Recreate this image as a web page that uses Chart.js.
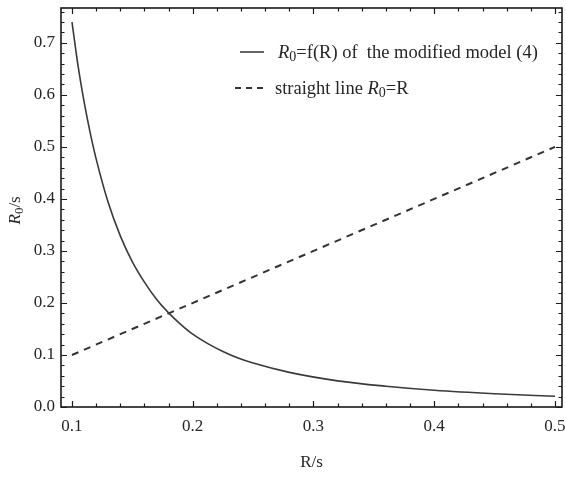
<!DOCTYPE html>
<html lang="en">
<head>
    <meta charset="UTF-8">
    <title>R0 = f(R)</title>
    <style>
        body {
            margin: 0;
            padding: 0;
            background-color: #fff;
        }
        .chart-box {
            width: 566px;
            height: 477px;
        }
    </style>
    <script src="https://cdn.jsdelivr.net/npm/chart.js"></script>
</head>
<body>

    <div class="chart-box">
        <canvas id="r0Chart" width="566" height="477"></canvas>
    </div>

    <script>
        // values
        const rValues = [0.100, 0.105, 0.110, 0.115, 0.120, 0.130, 0.140, 0.150, 0.160, 0.170,
                         0.180, 0.190, 0.200, 0.2125, 0.225, 0.2375, 0.250, 0.280, 0.320, 0.360,
                         0.400, 0.450, 0.500];
        const modelValues = [0.740, 0.656, 0.587, 0.528, 0.477, 0.393, 0.329, 0.279, 0.240, 0.207,
                             0.181, 0.159, 0.140, 0.1218, 0.1066, 0.0942, 0.0845, 0.0665, 0.0503, 0.0400,
                             0.0323, 0.0256, 0.0206];
        const lineR = [0.1, 0.5];
        const lineValues = [0.1, 0.5];

        const xMajorTicks = [0.1, 0.2, 0.3, 0.4, 0.5];
        const yMajorTicks = [0.0, 0.1, 0.2, 0.3, 0.4, 0.5, 0.6, 0.7];
        const minorStep = 0.02;

        const serif = "'Liberation Serif', 'DejaVu Serif', serif";
        const ink = '#262626';

        function isMajor(v, list) {
            return list.some(m => Math.abs(m - v) < 1e-6);
        }

        function stepTicks(from, to) {
            const out = [];
            for (let i = 0; from + i * minorStep <= to + 1e-9; i++) {
                out.push({ value: Math.round((from + i * minorStep) * 100) / 100 });
            }
            return out;
        }

        // text like "R0..." with italic R and subscript 0
        function drawR0(ctx, x, y, rest, size) {
            ctx.textBaseline = 'alphabetic';
            ctx.textAlign = 'left';
            ctx.font = 'italic ' + size + 'px ' + serif;
            ctx.fillText('R', x, y);
            x += ctx.measureText('R').width;
            ctx.font = Math.round(size * 0.75) + 'px ' + serif;
            ctx.fillText('0', x, y + 3);
            x += ctx.measureText('0').width;
            ctx.font = size + 'px ' + serif;
            ctx.fillText(rest, x, y);
            return x + ctx.measureText(rest).width;
        }

        const framePlugin = {
            id: 'frame',
            afterDraw(chart) {
                const ctx = chart.ctx;
                const a = chart.chartArea;
                const xs = chart.scales.x;
                const ys = chart.scales.y;
                ctx.save();

                // frame
                ctx.strokeStyle = '#1a1a1a';
                ctx.lineWidth = 1.6;
                ctx.strokeRect(a.left, a.top, a.right - a.left, a.bottom - a.top);

                // inward ticks on all four sides
                ctx.lineWidth = 1.2;
                ctx.beginPath();
                xs.ticks.forEach(t => {
                    const px = Math.round(xs.getPixelForValue(t.value)) + 0.5;
                    const len = isMajor(t.value, xMajorTicks) ? 6 : 3.5;
                    ctx.moveTo(px, a.bottom); ctx.lineTo(px, a.bottom - len);
                    ctx.moveTo(px, a.top); ctx.lineTo(px, a.top + len);
                });
                ys.ticks.forEach(t => {
                    const py = Math.round(ys.getPixelForValue(t.value)) + 0.5;
                    const len = isMajor(t.value, yMajorTicks) ? 6 : 3.5;
                    ctx.moveTo(a.left, py); ctx.lineTo(a.left + len, py);
                    ctx.moveTo(a.right, py); ctx.lineTo(a.right - len, py);
                });
                ctx.stroke();

                ctx.fillStyle = ink;

                // axis titles
                ctx.font = '17px ' + serif;
                ctx.textAlign = 'center';
                ctx.textBaseline = 'middle';
                ctx.fillText('R/s', (a.left + a.right) / 2, 463);

                ctx.save();
                ctx.translate(20, (a.top + a.bottom) / 2 + 17);
                ctx.rotate(-Math.PI / 2);
                drawR0(ctx, 0, 0, '/s', 17);
                ctx.restore();

                // legend
                ctx.strokeStyle = '#333';
                ctx.lineWidth = 1.5;
                ctx.setLineDash([]);
                ctx.beginPath();
                ctx.moveTo(240, 52); ctx.lineTo(264, 52);
                ctx.stroke();
                drawR0(ctx, 278, 58, '=f(R) of  the modified model (4)', 18.5);

                ctx.lineWidth = 2;
                ctx.setLineDash([6, 5]);
                ctx.beginPath();
                ctx.moveTo(235, 88); ctx.lineTo(266, 88);
                ctx.stroke();
                ctx.setLineDash([]);
                ctx.font = '18.5px ' + serif;
                ctx.textAlign = 'left';
                ctx.textBaseline = 'alphabetic';
                ctx.fillText('straight line ', 275, 94);
                const w = ctx.measureText('straight line ').width;
                drawR0(ctx, 275 + w, 94, '=R', 18.5);

                ctx.restore();
            }
        };

        const ctx = document.getElementById('r0Chart').getContext('2d');
        const r0Chart = new Chart(ctx, {
            type: 'line',
            data: {
                datasets: [{
                    label: 'R0=f(R) of the modified model (4)',
                    data: rValues.map((r, i) => ({ x: r, y: modelValues[i] })),
                    borderColor: '#3a3a3a',
                    borderWidth: 1.6,
                    pointRadius: 0,
                    fill: false,
                    cubicInterpolationMode: 'monotone'
                }, {
                    label: 'straight line R0=R',
                    data: lineR.map((r, i) => ({ x: r, y: lineValues[i] })),
                    borderColor: '#333',
                    borderWidth: 2,
                    borderDash: [7, 6],
                    pointRadius: 0,
                    fill: false
                }]
            },
            options: {
                responsive: false,
                animation: false,
                layout: {
                    padding: { left: 0, top: 8, right: 4, bottom: 0 }
                },
                plugins: {
                    legend: { display: false },
                    tooltip: { enabled: false }
                },
                scales: {
                    x: {
                        type: 'linear',
                        min: 0.0909,
                        max: 0.5058,
                        grid: { display: false, drawTicks: false },
                        border: { display: false },
                        afterBuildTicks: scale => { scale.ticks = stepTicks(0.1, 0.5); },
                        afterFit: scale => {
                            scale.height = 70;
                            scale.paddingLeft = 0;
                            scale.paddingRight = 0;
                        },
                        ticks: {
                            autoSkip: false,
                            maxRotation: 0,
                            padding: 9,
                            color: ink,
                            font: { family: serif, size: 17 },
                            callback: v => isMajor(v, xMajorTicks) ? v.toFixed(1) : ''
                        }
                    },
                    y: {
                        type: 'linear',
                        min: 0,
                        max: 0.767,
                        grid: { display: false, drawTicks: false },
                        border: { display: false },
                        afterBuildTicks: scale => { scale.ticks = stepTicks(0.0, 0.76); },
                        afterFit: scale => {
                            scale.width = 61;
                            scale.paddingTop = 0;
                            scale.paddingBottom = 0;
                        },
                        ticks: {
                            autoSkip: false,
                            padding: 6,
                            color: ink,
                            font: { family: serif, size: 17 },
                            callback: v => isMajor(v, yMajorTicks) ? v.toFixed(1) : ''
                        }
                    }
                }
            },
            plugins: [framePlugin]
        });
    </script>

</body>
</html>
